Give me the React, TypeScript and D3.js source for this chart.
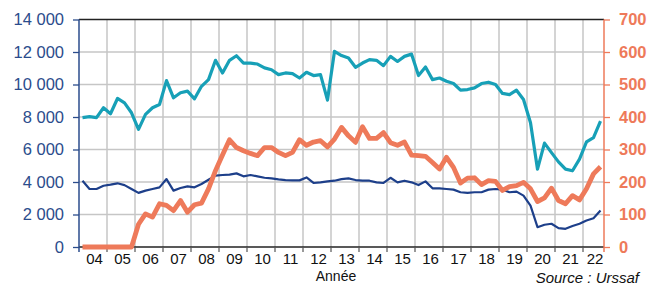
import React, { useEffect, useRef } from "react"
import * as d3 from "d3"

const WIDTH = 649
const HEIGHT = 286

// quarterly series, first point = 2004 Q1, last = 2022 Q3
const START_YEAR = 2004
const END_YEAR = 2022.75

const YEAR_LABELS = ["04", "05", "06", "07", "08", "09", "10", "11", "12", "13", "14", "15", "16", "17", "18", "19", "20", "21", "22"]
const LEFT_TICKS = [0, 2000, 4000, 6000, 8000, 10000, 12000, 14000]
const RIGHT_TICKS = [0, 100, 200, 300, 400, 500, 600, 700]

// left scale
const tealValues = [
	7960, 8020, 7960, 8570, 8200, 9140, 8870, 8260, 7240, 8160,
	8570, 8770, 10240, 9180, 9490, 9590, 9120, 9890, 10300, 11490,
	10710, 11490, 11770, 11320, 11320, 11260, 11020, 10910, 10610, 10710,
	10670, 10400, 10750, 10550, 10610, 9040, 12040, 11780, 11630, 11060,
	11320, 11530, 11490, 11160, 11730, 11420, 11730, 11870, 10550, 11080,
	10300, 10400, 10200, 10060, 9650, 9690, 9790, 10060, 10140, 10000,
	9450, 9380, 9650, 9080, 7650, 4790, 6390, 5810, 5240, 4790,
	4690, 5410, 6470, 6730, 7750,
]

// left scale
const navyValues = [
	4080, 3570, 3570, 3770, 3840, 3920, 3810, 3570, 3330, 3470,
	3570, 3670, 4180, 3470, 3630, 3730, 3670, 3880, 4140, 4390,
	4430, 4450, 4530, 4350, 4430, 4350, 4260, 4220, 4160, 4120,
	4100, 4100, 4280, 3940, 3980, 4040, 4080, 4180, 4220, 4120,
	4080, 4080, 3980, 3940, 4260, 3980, 4080, 3980, 3810, 4040,
	3610, 3610, 3570, 3530, 3370, 3330, 3370, 3370, 3530, 3570,
	3530, 3370, 3410, 3160, 2550, 1220, 1370, 1430, 1160, 1120,
	1290, 1430, 1630, 1770, 2240,
]

// right scale
const orangeValues = [
	0, 0, 0, 0, 0, 0, 0, 0, 70, 102,
	92, 133, 128, 112, 143, 107, 130, 135, 179, 235,
	283, 330, 306, 296, 288, 281, 306, 306, 291, 281,
	291, 330, 313, 323, 327, 308, 332, 368, 342, 322,
	370, 334, 334, 352, 321, 313, 323, 283, 281, 279,
	260, 240, 276, 245, 197, 212, 213, 192, 204, 202,
	174, 186, 189, 199, 179, 140, 151, 181, 143, 133,
	158, 145, 179, 225, 247,
]

const TEAL = "#17a0b7"
const NAVY = "#1d3f8a"
const ORANGE = "#ee7a5a"
const LEFT_TEXT = "#2b4c8c"
const GRID = "#c6c6c6"
const FONT = "'Liberation Sans', Arial, sans-serif"

const frFormat = d3.formatLocale({
	decimal: ",",
	thousands: " ",
	grouping: [3],
	currency: ["", ""],
}).format(",")

const App = () => {
	const svgRef = useRef<SVGSVGElement>(null)

	useEffect(() => {
		if (!svgRef.current) return
		const svg = d3.select(svgRef.current)
		svg.selectAll("*").remove()

		const margin = { top: 19.5, right: 45, bottom: 39, left: 79 }
		const x0 = margin.left
		const x1 = WIDTH - margin.right
		const y0 = HEIGHT - margin.bottom
		const y1 = margin.top

		const xScale = d3.scaleLinear().domain([START_YEAR, END_YEAR]).range([x0, x1])
		const yLeft = d3.scaleLinear().domain([0, 14000]).range([y0, y1])
		const yRight = d3.scaleLinear().domain([0, 700]).range([y0, y1])

		const quarterX = (i: number) => xScale(START_YEAR + (i + 0.5) / 4)
		const boundaries = d3.range(START_YEAR + 1, Math.floor(END_YEAR) + 1)

		// grid
		const grid = svg.append("g")
		grid.selectAll(".vgrid")
			.data(boundaries)
			.enter()
			.append("line")
			.attr("x1", (d) => xScale(d))
			.attr("x2", (d) => xScale(d))
			.attr("y1", y1)
			.attr("y2", y0)
			.attr("stroke", GRID)
			.attr("stroke-width", 1.5)
		grid.selectAll(".hgrid")
			.data(LEFT_TICKS.filter((d) => d > 0 && d < 14000))
			.enter()
			.append("line")
			.attr("x1", x0)
			.attr("x2", x1)
			.attr("y1", (d) => yLeft(d))
			.attr("y2", (d) => yLeft(d))
			.attr("stroke", GRID)
			.attr("stroke-width", 1.5)

		// top border
		svg.append("line")
			.attr("x1", x0)
			.attr("x2", x1)
			.attr("y1", y1)
			.attr("y2", y1)
			.attr("stroke", "#222")
			.attr("stroke-width", 1.3)

		// x axis line + ticks
		svg.append("line")
			.attr("x1", x0)
			.attr("x2", x1)
			.attr("y1", y0)
			.attr("y2", y0)
			.attr("stroke", "#222")
			.attr("stroke-width", 1.3)
		svg.selectAll(".xtick")
			.data(boundaries)
			.enter()
			.append("line")
			.attr("x1", (d) => xScale(d))
			.attr("x2", (d) => xScale(d))
			.attr("y1", y0)
			.attr("y2", y0 + 5)
			.attr("stroke", "#555")
			.attr("stroke-width", 1.2)

		svg.selectAll(".xlabel")
			.data(YEAR_LABELS)
			.enter()
			.append("text")
			.attr("x", (d, i) => {
				const a = START_YEAR + i
				const b = Math.min(a + 1, END_YEAR)
				return xScale((a + b) / 2) + 1.5
			})
			.attr("y", 264)
			.attr("text-anchor", "middle")
			.style("font-family", FONT)
			.style("font-size", "15px")
			.style("fill", "#111")
			.text((d) => d)

		// left axis
		const leftAxis = d3.axisLeft(yLeft)
			.tickValues(LEFT_TICKS)
			.tickSize(6)
			.tickSizeOuter(0)
			.tickPadding(9)
			.tickFormat((d) => frFormat(d as number))
		const gl = svg.append("g")
			.attr("transform", `translate(${x0},0)`)
			.call(leftAxis)
		gl.select(".domain").remove()
		gl.selectAll(".tick line").attr("stroke", LEFT_TEXT).attr("stroke-width", 1.3)
		gl.selectAll(".tick text")
			.style("font-family", FONT)
			.style("font-size", "16.5px")
			.style("fill", LEFT_TEXT)
		svg.append("line")
			.attr("x1", x0)
			.attr("x2", x0)
			.attr("y1", y1)
			.attr("y2", y0 + 5)
			.attr("stroke", LEFT_TEXT)
			.attr("stroke-width", 1.5)

		// right axis
		const rightAxis = d3.axisRight(yRight)
			.tickValues(RIGHT_TICKS)
			.tickSize(6)
			.tickSizeOuter(0)
			.tickPadding(9)
		const gr = svg.append("g")
			.attr("transform", `translate(${x1},0)`)
			.call(rightAxis)
		gr.select(".domain").remove()
		gr.selectAll(".tick line").attr("stroke", ORANGE).attr("stroke-width", 1.3)
		gr.selectAll(".tick text")
			.style("font-family", FONT)
			.style("font-size", "16.5px")
			.style("font-weight", "bold")
			.style("fill", ORANGE)
		svg.append("line")
			.attr("x1", x1)
			.attr("x2", x1)
			.attr("y1", y1)
			.attr("y2", y0 + 5)
			.attr("stroke", ORANGE)
			.attr("stroke-width", 1.5)

		// series
		const lineLeft = d3.line<number>()
			.x((d, i) => quarterX(i))
			.y((d) => yLeft(d))
		const lineRight = d3.line<number>()
			.x((d, i) => quarterX(i))
			.y((d) => yRight(d))

		svg.append("path")
			.datum(navyValues)
			.attr("fill", "none")
			.attr("stroke", NAVY)
			.attr("stroke-width", 2.2)
			.attr("stroke-linejoin", "round")
			.attr("d", lineLeft)

		svg.append("path")
			.datum(tealValues)
			.attr("fill", "none")
			.attr("stroke", TEAL)
			.attr("stroke-width", 3.2)
			.attr("stroke-linejoin", "round")
			.attr("d", lineLeft)

		svg.append("path")
			.datum(orangeValues)
			.attr("fill", "none")
			.attr("stroke", ORANGE)
			.attr("stroke-width", 4.8)
			.attr("stroke-linejoin", "round")
			.attr("d", lineRight)

		// titles
		svg.append("text")
			.attr("x", 336)
			.attr("y", 281)
			.attr("text-anchor", "middle")
			.style("font-family", FONT)
			.style("font-size", "14px")
			.style("fill", "#111")
			.text("Année")

		svg.append("text")
			.attr("x", 639)
			.attr("y", 283)
			.attr("text-anchor", "end")
			.style("font-family", FONT)
			.style("font-size", "15px")
			.style("font-style", "italic")
			.style("fill", "#111")
			.text("Source : Urssaf")
	}, [])

	return (
		<div style={{ position: "fixed", left: 0, top: 0, width: WIDTH, height: HEIGHT, background: "white" }}>
			<svg ref={svgRef} width={WIDTH} height={HEIGHT} style={{ display: "block" }}></svg>
		</div>
	)
}

export default App
